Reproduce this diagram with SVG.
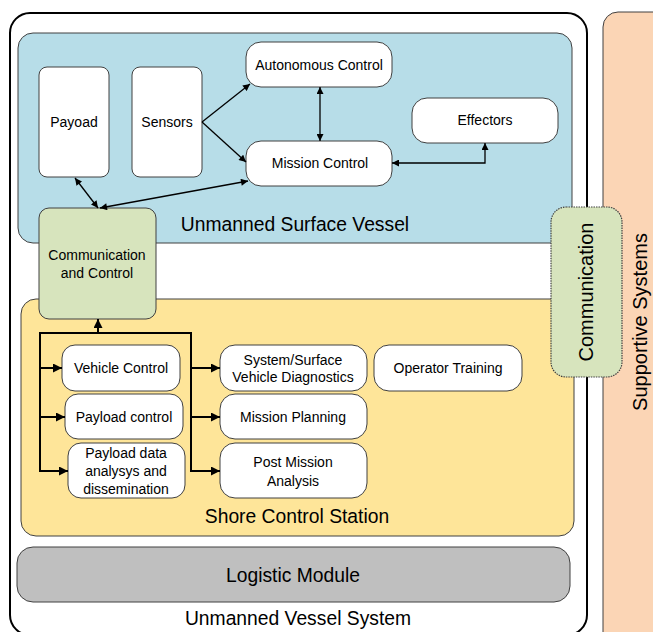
<svg xmlns="http://www.w3.org/2000/svg" width="653" height="632" viewBox="0 0 653 632">
<defs>
<style>
text{font-family:"Liberation Sans",Arial,sans-serif;fill:#000;text-anchor:middle;dominant-baseline:central}
.s{font-size:14px}
.b{font-size:19.3px}
.v{font-size:20px}
.box{fill:#fff;stroke:#404040;stroke-width:1}
.thin{fill:none;stroke:#000;stroke-width:1.3}
.thick{fill:none;stroke:#000;stroke-width:2}
</style>
<marker id="a" viewBox="0 0 10 10" refX="10" refY="5" markerWidth="8" markerHeight="7" markerUnits="userSpaceOnUse" orient="auto-start-reverse">
<path d="M0,0 L10,5 L0,10 Z" fill="#000"/>
</marker>
<marker id="A" viewBox="0 0 10 10" refX="10" refY="5" markerWidth="10" markerHeight="9" markerUnits="userSpaceOnUse" orient="auto">
<path d="M0,0 L10,5 L0,10 Z" fill="#000"/>
</marker>
</defs>

<g id="supportive-systems">
<rect x="603" y="12" width="70" height="640" rx="15" fill="#fbd5b5" stroke="#404040" stroke-width="1"/>
<text class="v" transform="translate(640,322) rotate(-90)">Supportive Systems</text>
</g>

<g id="unmanned-vessel-system">
<rect x="10" y="13" width="577" height="622" rx="20" fill="#fff" stroke="#000" stroke-width="2"/>
<text class="b" x="298" y="618">Unmanned Vessel System</text>
</g>

<g id="usv">
<rect x="18" y="33" width="554" height="210" rx="15" fill="#b7dde8" stroke="#404040" stroke-width="1"/>
<text class="b" x="295" y="224">Unmanned Surface Vessel</text>
</g>

<g id="shore-control-station">
<rect x="21" y="299" width="553" height="237" rx="15" fill="#fee599" stroke="#404040" stroke-width="1"/>
<text class="b" x="297" y="516">Shore Control Station</text>
</g>

<g id="logistic-module">
<rect x="17" y="547" width="553" height="55" rx="16" fill="#bfbfbf" stroke="#404040" stroke-width="1"/>
<text class="b" x="293" y="575">Logistic Module</text>
</g>

<g id="communication">
<rect x="551" y="207" width="71" height="170" rx="15" fill="#d7e4bd" stroke="#404040" stroke-width="1.2" stroke-dasharray="1.5 1"/>
<text class="v" transform="translate(586,292) rotate(-90)">Communication</text>
</g>

<g id="payoad">
<rect class="box" x="39" y="67" width="70" height="110" rx="8"/>
<text class="s" x="74" y="122">Payoad</text>
</g>
<g id="sensors">
<rect class="box" x="132" y="67" width="70" height="110" rx="8"/>
<text class="s" x="167" y="122">Sensors</text>
</g>
<g id="autonomous-control">
<rect class="box" x="246" y="42" width="146" height="45" rx="15"/>
<text class="s" x="319" y="65">Autonomous Control</text>
</g>
<g id="mission-control">
<rect class="box" x="246" y="141" width="146" height="45" rx="15"/>
<text class="s" x="320" y="163">Mission Control</text>
</g>
<g id="effectors">
<rect class="box" x="412" y="98" width="146" height="45" rx="15"/>
<text class="s" x="485" y="120">Effectors</text>
</g>

<g id="communication-and-control">
<rect x="39" y="208" width="117" height="111" rx="10" fill="#d7e4bd" stroke="#404040" stroke-width="1"/>
<text class="s" x="97" y="255">Communication</text>
<text class="s" x="97" y="273">and Control</text>
</g>

<g id="vehicle-control">
<rect class="box" x="62" y="345" width="118" height="46" rx="13"/>
<text class="s" x="121" y="368">Vehicle Control</text>
</g>
<g id="payload-control">
<rect class="box" x="65" y="394" width="118" height="45" rx="13"/>
<text class="s" x="124" y="417">Payload control</text>
</g>
<g id="payload-data">
<rect class="box" x="68" y="443" width="117" height="55" rx="13"/>
<text class="s" x="126" y="453">Payload data</text>
<text class="s" x="126" y="471">analysys and</text>
<text class="s" x="126" y="489">dissemination</text>
</g>
<g id="system-diagnostics">
<rect class="box" x="220" y="345" width="147" height="46" rx="15"/>
<text class="s" x="293" y="360">System/Surface</text>
<text class="s" x="293" y="377">Vehicle Diagnostics</text>
</g>
<g id="mission-planning">
<rect class="box" x="220" y="394" width="147" height="45" rx="15"/>
<text class="s" x="293" y="417">Mission Planning</text>
</g>
<g id="post-mission-analysis">
<rect class="box" x="220" y="443" width="147" height="55" rx="15"/>
<text class="s" x="293" y="462">Post Mission</text>
<text class="s" x="293" y="481">Analysis</text>
</g>
<g id="operator-training">
<rect class="box" x="374" y="345" width="148" height="46" rx="15"/>
<text class="s" x="448" y="368">Operator Training</text>
</g>

<g id="connectors">
<path class="thin" d="M202,122 L250,84" marker-end="url(#a)"/>
<path class="thin" d="M202,122 L246,162" marker-end="url(#a)"/>
<path class="thin" d="M320,87 L320,141" marker-start="url(#a)" marker-end="url(#a)"/>
<path class="thin" d="M75,178 L98,208" marker-start="url(#a)" marker-end="url(#a)"/>
<path class="thin" d="M100,208 L248,181" marker-start="url(#a)" marker-end="url(#a)"/>
<path class="thin" d="M392,163 L485,163 L485,143" marker-start="url(#a)" marker-end="url(#a)"/>

<path class="thick" d="M40,472 L40,333 L191,333 L191,472"/>
<path class="thick" d="M98,333 L98,319" marker-end="url(#A)"/>
<path class="thick" d="M40,368 L62,368" marker-end="url(#A)"/>
<path class="thick" d="M40,417 L65,417" marker-end="url(#A)"/>
<path class="thick" d="M40,471 L68,471" marker-end="url(#A)"/>
<path class="thick" d="M191,368 L220,368" marker-end="url(#A)"/>
<path class="thick" d="M191,417 L220,417" marker-end="url(#A)"/>
<path class="thick" d="M191,471 L220,471" marker-end="url(#A)"/>
</g>
</svg>
